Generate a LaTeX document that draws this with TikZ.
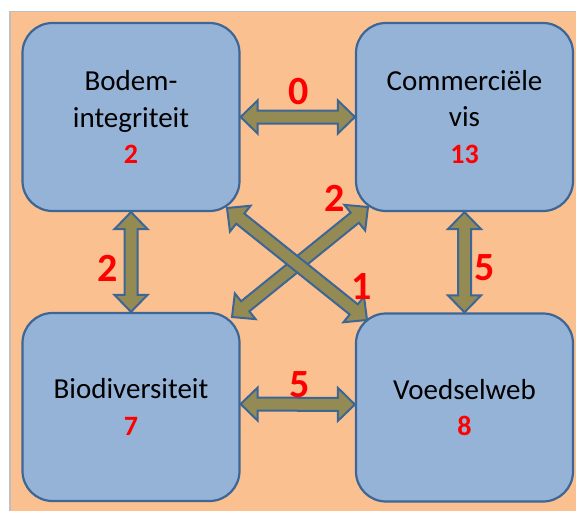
\documentclass[tikz,border=0pt]{standalone}
\usepackage{fontspec}
\setmainfont{Carlito}
\usetikzlibrary{calc}
\definecolor{peach}{HTML}{FAC090}
\definecolor{boxfill}{HTML}{95B3D7}
\definecolor{boxline}{HTML}{3C6696}
\definecolor{olivearrow}{HTML}{948A54}
\newcommand\blockarrow[2]{%
  \coordinate (ba1) at ($(#1)!17pt!(#2)$);
  \coordinate (ba2) at ($(#2)!17pt!(#1)$);
  \draw[barrow] (#1) -- ($(ba1)!16.5pt!90:(#1)$) -- ($(ba1)!6.5pt!90:(#1)$)
    -- ($(ba2)!6.5pt!-90:(#2)$) -- ($(ba2)!16.5pt!-90:(#2)$) -- (#2)
    -- ($(ba2)!16.5pt!90:(#2)$) -- ($(ba2)!6.5pt!90:(#2)$)
    -- ($(ba1)!6.5pt!-90:(#1)$) -- ($(ba1)!16.5pt!-90:(#1)$) -- cycle;
}
\begin{document}
\begin{tikzpicture}[x=1pt,y=-1pt,
  box/.style={draw=boxline, fill=boxfill, line width=2.2pt, rounded corners=30pt,
    minimum width=217pt, minimum height=188pt, align=center, text=black,
    font=\fontsize{29}{36.5}\selectfont, inner sep=0pt},
  barrow/.style={draw=boxline, fill=olivearrow, line width=2pt, line join=miter},
  elabel/.style={text=red, font=\fontsize{40}{44}\selectfont\bfseries, inner sep=0pt}]
\useasboundingbox (0,0) rectangle (576,511);
\fill[black!25] (9,11) rectangle (580,515);
\fill[peach] (11,12) rectangle (580,515);
\newcommand\nm[1]{{\fontsize{28}{36.5}\selectfont\bfseries\color{red}#1}}
\node[box] (tl) at (131,117) {Bodem-\\integriteit\\\nm{2}};
\node[box] (tr) at (464.5,117) {Commerciële\\vis\\\nm{13}};
\node[box] (bl) at (131,407) {Biodiversiteit\\\nm{7}};
\node[box] (br) at (464.5,407.5) {Voedselweb\\\nm{8}};
\coordinate (d1a) at (227,208);
\coordinate (d1b) at (367,320);
\coordinate (d2a) at (232,317);
\coordinate (d2b) at (368,207);
\coordinate (ba) at ($(bl.east)+(0,-3)$);
\coordinate (bb) at ($(br.west)+(0,-3)$);
\blockarrow{tl.east}{tr.west}
\blockarrow{tl.south}{bl.north}
\blockarrow{tr.south}{br.north}
\blockarrow{ba}{bb}
\blockarrow{d2a}{d2b}
\blockarrow{d1a}{d1b}
\node[elabel] (l0) at (299,92) {0};
\node[elabel] (l2a) at (108,268) {2};
\node[elabel] (l5a) at (485,268) {5};
\node[elabel] (l5b) at (300,385) {5};
\node[elabel] (l2b) at (335,198) {2};
\node[elabel] (l1) at (362,287) {1};
\end{tikzpicture}
\end{document}
